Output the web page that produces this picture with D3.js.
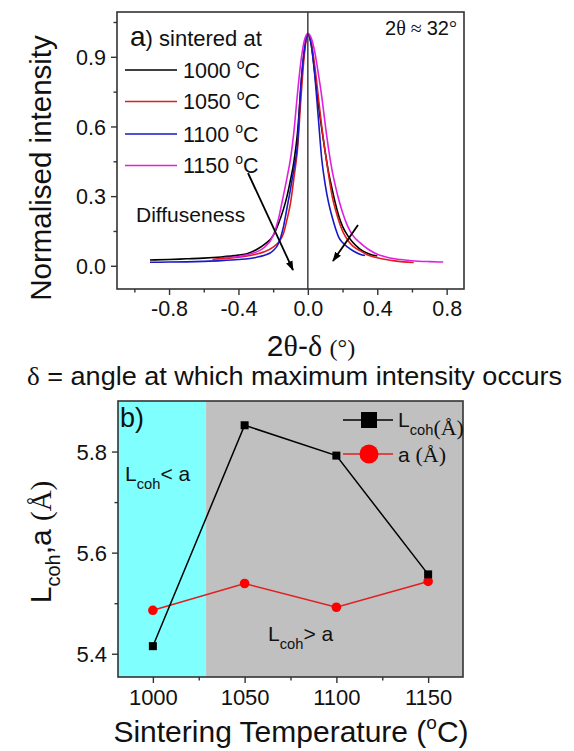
<!DOCTYPE html>
<html><head><meta charset="utf-8">
<script src="https://cdn.jsdelivr.net/npm/d3@7"></script>
<style>
html,body{margin:0;padding:0;background:#fff;}
svg{display:block;font-family:"Liberation Sans",Arial,sans-serif;}
</style></head>
<body>
<script>
// ---------- Panel a data (2θ-δ vs normalised intensity) ----------
const seriesNames = ["1000 °C","1050 °C","1100 °C","1150 °C"];
const seriesColors = ["#000000","#e01c1c","#1818c8","#e020e0"];
const x1000 = [-0.91,-0.8,-0.7,-0.6,-0.5,-0.4,-0.35,-0.3,-0.25,-0.2,-0.17,-0.14,-0.12,-0.1,-0.08,-0.06,-0.04,-0.02,0,0.02,0.04,0.06,0.08,0.1,0.12,0.14,0.16,0.18,0.2,0.23,0.26,0.3,0.35,0.4];
const y1000 = [0.025,0.027,0.030,0.033,0.038,0.046,0.052,0.068,0.092,0.13,0.18,0.245,0.30,0.37,0.45,0.57,0.77,0.93,1.0,0.95,0.83,0.70,0.59,0.49,0.40,0.33,0.265,0.21,0.17,0.13,0.10,0.072,0.052,0.042];
const x1050 = [-0.55,-0.45,-0.35,-0.3,-0.25,-0.2,-0.17,-0.14,-0.12,-0.1,-0.08,-0.06,-0.04,-0.02,0,0.02,0.04,0.06,0.08,0.1,0.12,0.14,0.16,0.18,0.2,0.23,0.26,0.3,0.35,0.4,0.45,0.5,0.55,0.61];
const y1050 = [0.028,0.033,0.042,0.050,0.060,0.080,0.10,0.14,0.20,0.27,0.38,0.50,0.72,0.91,1.0,0.96,0.86,0.73,0.60,0.49,0.39,0.30,0.24,0.19,0.15,0.11,0.085,0.065,0.045,0.035,0.027,0.021,0.017,0.014];
const x1100 = [-0.91,-0.8,-0.7,-0.6,-0.5,-0.4,-0.3,-0.25,-0.2,-0.17,-0.14,-0.12,-0.1,-0.08,-0.06,-0.04,-0.02,0,0.02,0.04,0.06,0.08,0.1,0.12,0.14,0.16,0.18,0.2,0.23,0.26,0.3,0.33];
const y1100 = [0.015,0.016,0.017,0.019,0.022,0.027,0.036,0.045,0.065,0.095,0.17,0.25,0.33,0.42,0.52,0.78,0.93,1.0,0.95,0.82,0.64,0.46,0.35,0.27,0.21,0.16,0.12,0.10,0.08,0.065,0.05,0.044];
const x1150 = [-0.48,-0.4,-0.35,-0.3,-0.25,-0.2,-0.17,-0.15,-0.12,-0.1,-0.08,-0.06,-0.04,-0.02,0,0.02,0.04,0.06,0.08,0.1,0.12,0.14,0.16,0.18,0.2,0.23,0.26,0.3,0.35,0.4,0.45,0.5,0.6,0.7,0.78];
const y1150 = [0.035,0.040,0.047,0.058,0.080,0.13,0.20,0.27,0.38,0.46,0.58,0.74,0.88,0.97,1.0,0.98,0.92,0.83,0.73,0.61,0.50,0.41,0.34,0.28,0.23,0.17,0.13,0.10,0.07,0.05,0.038,0.030,0.022,0.018,0.016];
const topXTicks = [-0.8,-0.4,0,0.4,0.8];
const topXTickLabels = ["-0.8","-0.4","0.0","0.4","0.8"];
const topXMinor = [-1.0,-0.6,-0.2,0.2,0.6];
const topYTicks = [0,0.3,0.6,0.9];
const topYTickLabels = ["0.0","0.3","0.6","0.9"];
const topYMinor = [0.15,0.45,0.75,1.05];

// ---------- Panel b data ----------
const temps = [1000,1050,1100,1150];
const lcoh = [5.415,5.852,5.792,5.557];
const latt = [5.486,5.539,5.492,5.543];
const botXTicks = [1000,1050,1100,1150];
const botXTickLabels = ["1000","1050","1100","1150"];
const botXMinor = [1025,1075,1125];
const botYTicks = [5.4,5.6,5.8];
const botYTickLabels = ["5.4","5.6","5.8"];
const botYMinor = [5.5,5.7];
const regionSplit = 1029; // boundary between L_coh<a and L_coh>a regions

const W=574,H=751;
const svg=d3.select("body").append("svg").attr("width",W).attr("height",H);
const frameColor="#333";
const serif='"Liberation Serif","Times New Roman",serif';

// ================= Panel a =================
const xa=d3.scaleLinear().domain([-1.1,0.9]).range([117,464]);
const ya=d3.scaleLinear().domain([-0.1,1.093]).range([289,12]);
const ga=svg.append("g");

function drawAxes(g,x,y,xt,xtl,xm,yt,ytl,ym,fs){
  const bottom=y.range()[0];
  const left=x.range()[0];
  const ax=g.append("g").attr("transform",`translate(0,${bottom})`)
    .call(d3.axisBottom(x).tickValues(xt).tickFormat((d,i)=>xtl[i]).tickSize(6).tickPadding(6));
  const axm=g.append("g").attr("transform",`translate(0,${bottom})`)
    .call(d3.axisBottom(x).tickValues(xm).tickFormat("").tickSize(3.5));
  const ay=g.append("g").attr("transform",`translate(${left},0)`)
    .call(d3.axisLeft(y).tickValues(yt).tickFormat((d,i)=>ytl[i]).tickSize(6).tickPadding(5));
  const aym=g.append("g").attr("transform",`translate(${left},0)`)
    .call(d3.axisLeft(y).tickValues(ym).tickFormat("").tickSize(3.5));
  [ax,axm,ay,aym].forEach(a=>{
    a.select(".domain").remove();
    a.selectAll("line").attr("stroke",frameColor).attr("stroke-width",1.4);
    a.selectAll("text").attr("font-size",fs).attr("fill","#111").attr("font-family",'"Liberation Sans",Arial,sans-serif');
  });
  ay.selectAll("text").attr("dy","0.36em");
}
drawAxes(ga,xa,ya,topXTicks,topXTickLabels,topXMinor,topYTicks,topYTickLabels,topYMinor,21.5);

// curves
const lineA=d3.line().x(d=>xa(d[0])).y(d=>ya(d[1])).curve(d3.curveMonotoneX);
const seriesX=[x1000,x1050,x1100,x1150], seriesY=[y1000,y1050,y1100,y1150];
seriesX.forEach((xs,i)=>{
  const pts=xs.map((v,j)=>[v,seriesY[i][j]]);
  ga.append("path").datum(pts).attr("d",lineA).attr("fill","none")
    .attr("stroke",seriesColors[i]).attr("stroke-width",1.6);
});
// vertical line at 0
ga.append("line").attr("x1",xa(0)).attr("x2",xa(0)).attr("y1",ya.range()[0]).attr("y2",ya.range()[1])
  .attr("stroke","#222").attr("stroke-width",1.3);
// frame
ga.append("rect").attr("x",117).attr("y",12).attr("width",464-117).attr("height",289-12)
  .attr("fill","none").attr("stroke",frameColor).attr("stroke-width",1.6);

// legend a
const lt=ga.append("text").attr("x",130).attr("y",46).attr("fill","#111");
lt.append("tspan").attr("font-size",28).text("a");
lt.append("tspan").attr("font-size",22).text(") sintered at");
const legY=[70,101.5,134,165.5];
seriesNames.forEach((n,i)=>{
  ga.append("line").attr("x1",125).attr("x2",177).attr("y1",legY[i]).attr("y2",legY[i])
    .attr("stroke",seriesColors[i]).attr("stroke-width",1.6);
  const t=ga.append("text").attr("x",183).attr("y",legY[i]+7.5).attr("font-size",21.5).attr("fill","#111");
  t.append("tspan").text(n.split(" ")[0]+" ");
  t.append("tspan").attr("font-size",14).attr("dy",-9).text("o");
  t.append("tspan").attr("dy",9).text("C");
});
// 2θ ≈ 32°
const tt=ga.append("text").attr("x",457).attr("y",35).attr("text-anchor","end").attr("font-size",20).attr("fill","#111");
tt.append("tspan").text("2");
tt.append("tspan").attr("font-family",serif).text("θ ≈ ");
tt.append("tspan").text("32");
tt.append("tspan").attr("font-family",serif).text("°");
// Diffuseness + arrows
ga.append("text").attr("x",136).attr("y",222).attr("font-size",21).attr("fill","#111").text("Diffuseness");
svg.append("defs").append("marker").attr("id","ah").attr("viewBox","0 0 10 10").attr("refX",9).attr("refY",5)
  .attr("markerWidth",5.5).attr("markerHeight",5.5).attr("orient","auto")
  .append("path").attr("d","M0,1.5 L10,5 L0,8.5 Z").attr("fill","#000");
ga.append("line").attr("x1",248).attr("y1",173).attr("x2",293).attr("y2",270)
  .attr("stroke","#000").attr("stroke-width",1.8).attr("marker-end","url(#ah)");
ga.append("line").attr("x1",358).attr("y1",225).attr("x2",333).attr("y2",261)
  .attr("stroke","#000").attr("stroke-width",1.8).attr("marker-end","url(#ah)");

// axis titles a
svg.append("text").attr("transform","translate(51,168) rotate(-90)").attr("text-anchor","middle")
  .attr("font-size",29.5).attr("fill","#111").text("Normalised intensity");
const xta=svg.append("text").attr("x",311).attr("y",356).attr("text-anchor","middle").attr("font-size",30).attr("fill","#111");
xta.append("tspan").text("2");
xta.append("tspan").attr("font-family",serif).text("θ");
xta.append("tspan").text("-");
xta.append("tspan").attr("font-family",serif).text("δ ");
xta.append("tspan").attr("font-family",serif).attr("font-size",24).text("(°)");
const sub=svg.append("text").attr("x",27).attr("y",385).attr("font-size",25.5).attr("fill","#111")
  .attr("textLength",535).attr("lengthAdjust","spacingAndGlyphs");
sub.append("tspan").attr("font-family",serif).text("δ");
sub.append("tspan").text(" = angle at which maximum intensity occurs");

// ================= Panel b =================
const xb=d3.scaleLinear().domain([981,1169]).range([118,463]);
const yb=d3.scaleLinear().domain([5.354,5.9]).range([677,401]);
const gb=svg.append("g");
gb.append("rect").attr("x",xb(981)).attr("y",401).attr("width",xb(regionSplit)-xb(981)).attr("height",276).attr("fill","#80ffff");
gb.append("rect").attr("x",xb(regionSplit)).attr("y",401).attr("width",xb(1169)-xb(regionSplit)).attr("height",276).attr("fill","#c0c0c0");
drawAxes(gb,xb,yb,botXTicks,botXTickLabels,botXMinor,botYTicks,botYTickLabels,botYMinor,22);

const lineB=d3.line().x(d=>xb(d[0])).y(d=>yb(d[1]));
const lc=temps.map((t,i)=>[t,lcoh[i]]), la=temps.map((t,i)=>[t,latt[i]]);
gb.append("path").datum(la).attr("d",lineB).attr("fill","none").attr("stroke","#e02020").attr("stroke-width",1.5);
gb.append("path").datum(lc).attr("d",lineB).attr("fill","none").attr("stroke","#000").attr("stroke-width",1.5);
gb.selectAll("circle.a").data(la).enter().append("circle").attr("cx",d=>xb(d[0])).attr("cy",d=>yb(d[1])).attr("r",4.8).attr("fill","#ff0000");
gb.selectAll("rect.l").data(lc).enter().append("rect").attr("x",d=>xb(d[0])-4).attr("y",d=>yb(d[1])-4).attr("width",8).attr("height",8).attr("fill","#000");

gb.append("rect").attr("x",118).attr("y",401).attr("width",463-118).attr("height",276)
  .attr("fill","none").attr("stroke",frameColor).attr("stroke-width",1.6);

gb.append("text").attr("x",120).attr("y",427).attr("font-size",27).attr("fill","#111").text("b)");
function lcohText(x,y,rest,fs){
  const t=gb.append("text").attr("x",x).attr("y",y).attr("font-size",fs).attr("fill","#111");
  t.append("tspan").text("L");
  t.append("tspan").attr("font-size",fs*0.7).attr("dy",8).text("coh");
  t.append("tspan").attr("dy",-8).text(rest);
  return t;
}
lcohText(125,481,"< a",21);
lcohText(268,641,"> a",21);
// legend b
gb.append("line").attr("x1",343).attr("x2",393).attr("y1",420).attr("y2",420).attr("stroke","#000").attr("stroke-width",1.5);
gb.append("rect").attr("x",361).attr("y",412).attr("width",16).attr("height",16).attr("fill","#000");
gb.append("line").attr("x1",343).attr("x2",393).attr("y1",454).attr("y2",454).attr("stroke","#e02020").attr("stroke-width",1.5);
gb.append("circle").attr("cx",369).attr("cy",454).attr("r",9.5).attr("fill","#ff0000");
const l1=lcohText(398,427,"",21);
l1.append("tspan").attr("font-family",serif).attr("font-size",22).text("(Å)");
const l2=gb.append("text").attr("x",398).attr("y",462).attr("font-size",21).attr("fill","#111");
l2.append("tspan").text("a ");
l2.append("tspan").attr("font-family",serif).attr("font-size",22).text("(Å)");

// axis titles b
const ytb=svg.append("text").attr("transform","translate(51,542) rotate(-90)").attr("text-anchor","middle").attr("font-size",30).attr("fill","#111");
ytb.append("tspan").text("L");
ytb.append("tspan").attr("font-size",20).attr("dy",9).text("coh");
ytb.append("tspan").attr("dy",-9).text(",a ");
ytb.append("tspan").attr("font-family",serif).attr("font-size",29).text("(Å)");
const xtb=svg.append("text").attr("x",291).attr("y",742).attr("text-anchor","middle").attr("font-size",30).attr("fill","#111");
xtb.append("tspan").text("Sintering Temperature (");
xtb.append("tspan").attr("font-size",19).attr("dy",-13).text("o");
xtb.append("tspan").attr("dy",13).text("C)");
</script>
</body></html>
